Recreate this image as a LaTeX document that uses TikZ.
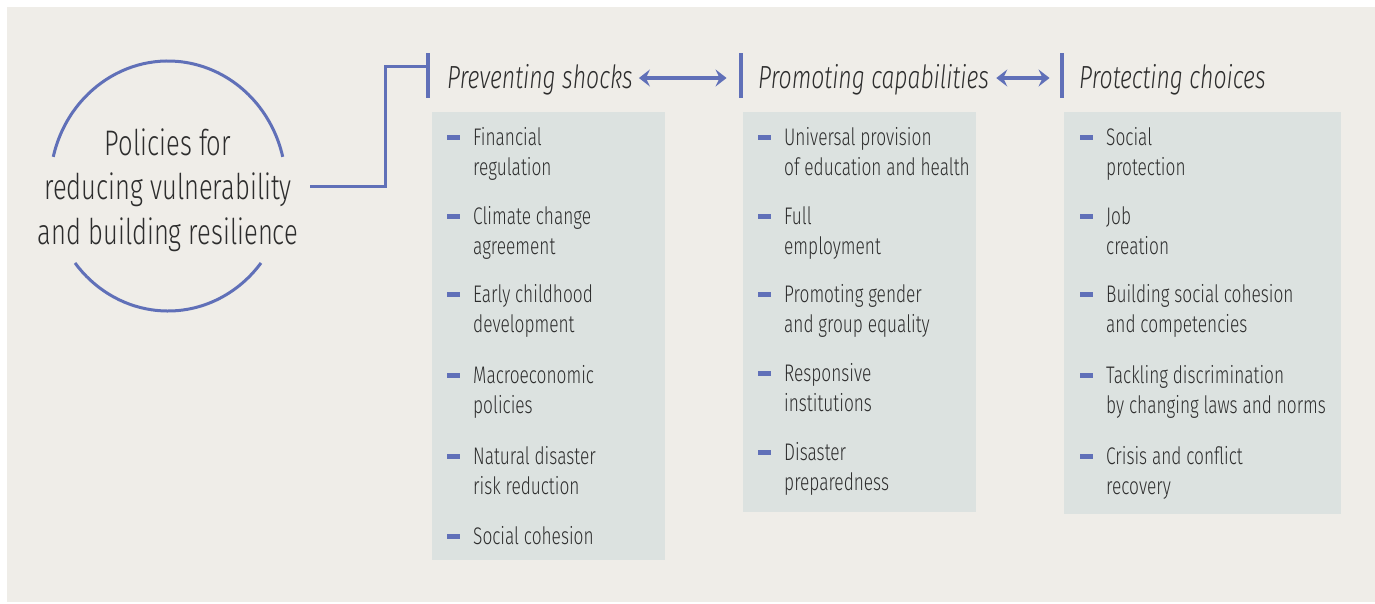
\documentclass[tikz,border=0pt]{standalone}
\usepackage{fontspec}
\IfFontExistsTF{Fira Sans Light}{%
	\setmainfont{Fira Sans Light}[FakeStretch=0.72,ItalicFont={Fira Sans Light Italic}]%
}{%
	\setmainfont{Fira Sans}[FakeStretch=0.72]%
}
\usetikzlibrary{arrows.meta}
\definecolor{polblue}{RGB}{96,112,184}
\definecolor{bgbeige}{RGB}{239,237,232}
\definecolor{boxgrey}{RGB}{220,226,224}
\definecolor{txtgrey}{RGB}{45,45,45}
\newcommand{\polrow}[1]{\begin{tabular}[t]{@{}l@{}}\llap{\textcolor{polblue}{\rule[6pt]{13pt}{5pt}}\hspace{13pt}}#1\end{tabular}}

\begin{document}
\begin{tikzpicture}[x=1pt,y=-1pt,
		head/.style={anchor=base west,inner sep=0pt,text=txtgrey,font=\fontsize{32}{38}\selectfont\itshape},
		item/.style={anchor=base west,inner sep=0pt,text=txtgrey,font=\fontsize{24}{30}\selectfont},
		panel/.style={anchor=north west,fill=boxgrey,inner sep=0pt},
		barnode/.style={fill=polblue,inner sep=0pt,minimum width=4.5pt,minimum height=45pt},
		link/.style={draw=polblue,line width=3pt},
		twoway/.style={draw=polblue,line width=4pt,{Stealth[length=11pt,width=17pt,inset=4pt]}-{Stealth[length=11pt,width=17pt,inset=4pt]}}]
			\useasboundingbox (0,0) rectangle (1375,603);
			\fill[white] (0,0) rectangle (1375,603);
			\fill[bgbeige] (7,7) rectangle (1375,602);
			\coordinate (ring) at (168,186);
			\draw[link] ([shift={(193.5:118 and 125)}]ring) arc[start angle=193.5,end angle=346.5,x radius=118,y radius=125];
			\draw[link] ([shift={(38:118 and 125)}]ring) arc[start angle=38,end angle=142,x radius=118,y radius=125];
			\node[align=center,inner sep=0pt,text=txtgrey,font=\fontsize{35.5}{44.5}\selectfont] (policies) at (168,190) {Policies for\\reducing vulnerability\\and building resilience};
			\node[barnode] (barA) at (428,75.5) {};
			\node[barnode] (barB) at (741,75.5) {};
			\node[barnode] (barC) at (1062,75.5) {};
			\node[head] (prevent) at (447,88.5) {Preventing shocks};
			\node[head] (promote) at (758,88.5) {Promoting capabilities};
			\node[head] (protect) at (1079,88.5) {Protecting choices};
			\coordinate (stem) at (310,186);
			\coordinate (elbow) at (385,186);
			\coordinate (hook) at (0,66);
			\coordinate (arrowrow) at (0,78);
			\draw[link] (stem) -- (elbow) |- (barA.west |- hook);
			\draw[twoway] ([xshift=6pt]prevent.base east |- arrowrow) -- ([xshift=-12pt]barB.west |- arrowrow);
			\draw[twoway] ([xshift=7pt]promote.base east |- arrowrow) -- ([xshift=-10pt]barC.west |- arrowrow);
			\node[panel,minimum width=233pt,minimum height=448pt] (boxA) at (432,112) {};
			\node[panel,minimum width=233pt,minimum height=400pt] (boxB) at (743,112) {};
			\node[panel,minimum width=277pt,minimum height=402pt] (boxC) at (1064,112) {};
			\node[item] (fin) at (473,145.5) {\polrow{Financial\\regulation}};
			\node[item] (cli) at (473,224.5) {\polrow{Climate change\\agreement}};
			\node[item] (ecd) at (473,302.5) {\polrow{Early childhood\\development}};
			\node[item] (mac) at (473,383.5) {\polrow{Macroeconomic\\policies}};
			\node[item] (ndr) at (473,464.5) {\polrow{Natural disaster\\risk reduction}};
			\node[item] (soc) at (473,544.5) {\polrow{Social cohesion}};
			\node[item] (uni) at (784,145.5) {\polrow{Universal provision\\of education and health}};
			\node[item] (ful) at (784,224.5) {\polrow{Full\\employment}};
			\node[item] (gen) at (784,302.5) {\polrow{Promoting gender\\and group equality}};
			\node[item] (res) at (784,381.5) {\polrow{Responsive\\institutions}};
			\node[item] (dis) at (784,460.5) {\polrow{Disaster\\preparedness}};
			\node[item] (spr) at (1106,145.5) {\polrow{Social\\protection}};
			\node[item] (job) at (1106,224.5) {\polrow{Job\\creation}};
			\node[item] (bsc) at (1106,302.5) {\polrow{Building social cohesion\\and competencies}};
			\node[item] (tak) at (1106,383.5) {\polrow{Tackling discrimination\\by changing laws and norms}};
			\node[item] (cri) at (1106,464.5) {\polrow{Crisis and conflict\\recovery}};
		\end{tikzpicture}
\end{document}
